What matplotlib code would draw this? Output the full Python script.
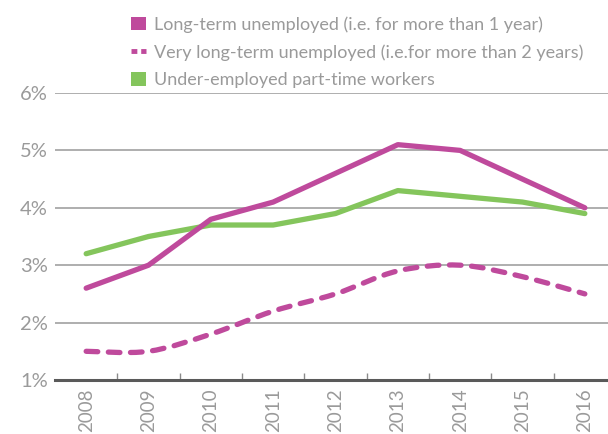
import numpy as np
import matplotlib
matplotlib.use('Agg')
import matplotlib.pyplot as plt
from matplotlib.path import Path
from matplotlib.patches import PathPatch, Patch
from matplotlib.lines import Line2D

plt.rcParams['font.family'] = ['Lato', 'DejaVu Sans']

################################################################
#################### DATA ######################################
################################################################

years = ['2008', '2009', '2010', '2011', '2012', '2013', '2014', '2015', '2016']
long_term = [2.6, 3.0, 3.8, 4.1, 4.6, 5.1, 5.0, 4.5, 4.0]
very_long_term = [1.5, 1.5, 1.8, 2.2, 2.5, 2.9, 3.0, 2.8, 2.5]
under_employed = [3.2, 3.5, 3.7, 3.7, 3.9, 4.3, 4.2, 4.1, 3.9]

labels = ['Long-term unemployed (i.e. for more than 1 year)',
          'Very long-term unemployed (i.e.for more than 2 years)',
          'Under-employed part-time workers']

magenta = '#bf4a9c'
green = '#84c55c'
gray_text = '#9a9a9a'

################################################################
#################### PLOT ######################################
################################################################

fig = plt.figure(figsize=(6.08, 4.34), dpi=100)
ax = fig.add_axes([55 / 608, 1 - 380 / 434, 561 / 608, (380 - 93) / 434])

x = np.arange(len(years))

ax.plot(x, under_employed, color=green, lw=3.8, solid_capstyle='round', zorder=3)
ax.plot(x, long_term, color=magenta, lw=3.8, solid_capstyle='round', zorder=4)

# smooth dashed curve (catmull-rom as bezier segments)
pts = np.column_stack([x, very_long_term]).astype(float)
verts = [tuple(pts[0])]
codes = [Path.MOVETO]
for i in range(len(pts) - 1):
    p0 = pts[i - 1] if i > 0 else pts[i]
    p1 = pts[i]
    p2 = pts[i + 1]
    p3 = pts[i + 2] if i + 2 < len(pts) else pts[i + 1]
    c1 = p1 + (p2 - p0) / 6
    c2 = p2 - (p3 - p1) / 6
    verts += [tuple(c1), tuple(c2), tuple(p2)]
    codes += [Path.CURVE4] * 3
ax.add_patch(PathPatch(Path(verts, codes), fill=False, edgecolor=magenta, lw=3.8,
                       linestyle=(0, (2.2, 2.0)), capstyle='round', zorder=4))

ax.set_xlim(-0.5, len(years) - 0.5)
ax.set_ylim(1, 6)

# grid
for v in range(2, 7):
    ax.axhline(v, color='#999999', lw=1.1, zorder=1)

for s in ['top', 'right', 'left']:
    ax.spines[s].set_visible(False)
ax.spines['bottom'].set_color('#5a5a5a')
ax.spines['bottom'].set_linewidth(2.2)

ax.set_yticks(range(1, 7))
ax.set_yticklabels([f'{v}%' for v in range(1, 7)], color=gray_text, fontsize=14.5)
ax.tick_params(axis='y', length=0, pad=5)

ax.set_xticks(x)
ax.set_xticklabels(years, rotation=90, color=gray_text, fontsize=13.5)
ax.tick_params(axis='x', which='major', length=0, pad=6)
ax.set_xticks(np.arange(0.5, len(years) - 0.5), minor=True)
ax.tick_params(axis='x', which='minor', direction='in', length=5, width=1, color='#8a8a8a')

handles = [Patch(facecolor=magenta, edgecolor='none'),
           Line2D([0], [0], color=magenta, lw=3.5, linestyle=(0, (1.2, 0.8))),
           Patch(facecolor=green, edgecolor='none')]
leg = fig.legend(handles, labels, loc='upper left', bbox_to_anchor=(115 / 608, 1 - 0 / 434),
                 frameon=False, fontsize=13, handlelength=0.8, handleheight=0.8,
                 handletextpad=0.45, labelspacing=0.62, labelcolor=gray_text)

plt.savefig('out.png', dpi=100)
